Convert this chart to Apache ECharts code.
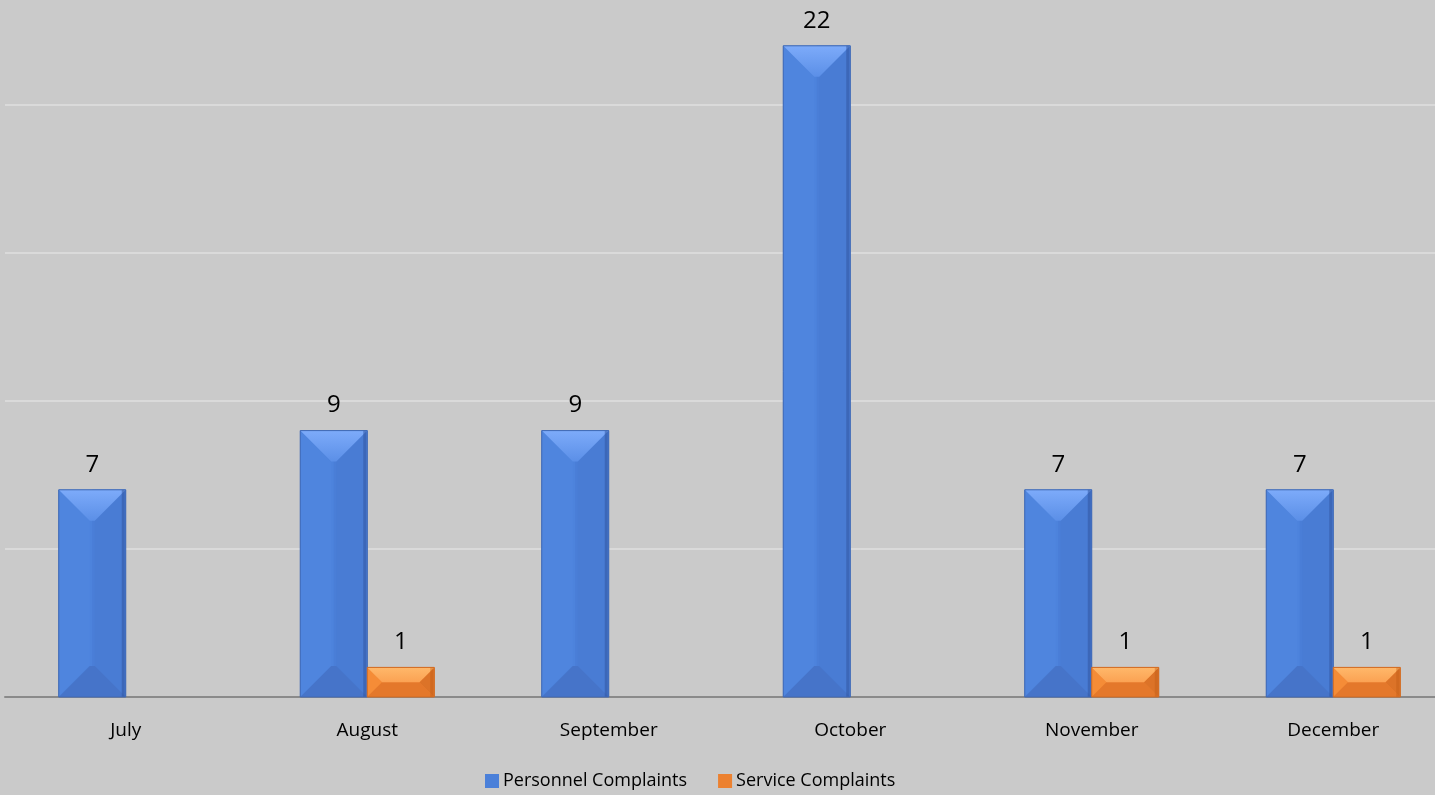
<!DOCTYPE html>
<html>
<head>
<meta charset="utf-8">
<script src="https://cdn.jsdelivr.net/npm/echarts@6/dist/echarts.min.js"></script>
<style>
html,body{margin:0;padding:0;background:#cacaca;}
#chart{width:1435px;height:795px;}
</style>
</head>
<body>
<div id="chart"></div>
<script>
var months = ['July','August','September','October','November','December'];
var personnel = [7, 9, 9, 22, 7, 7];
var service = [null, 1, null, null, 1, 1];

var font = '"Open Sans", sans-serif';
var CAT_GAP = 0.445;

function bevelData(values) {
  var out = [];
  values.forEach(function (v, i) { if (v != null) out.push([i, v]); });
  return out;
}

function makeBevel(side, pal) {
  return function (params, api) {
    var idx = api.value(0), val = api.value(1);
    var top = api.coord([idx, val]);
    var bot = api.coord([idx, 0]);
    var catW = api.size([1, 0])[0];
    var bw = catW * (1 - CAT_GAP) / 2;
    var x0 = side < 0 ? top[0] - bw : top[0];
    var x1 = x0 + bw;
    var yt = top[1], yb = bot[1];
    var h = yb - yt;
    var d = Math.min(bw / 2, h / 2, 31);
    function poly(pts, c) { return {type: 'polygon', shape: {points: pts}, style: {fill: c}}; }
    var xm = (x0 + x1) / 2;
    return {
      type: 'group',
      children: [
        {type: 'rect', shape: {x: x0, y: yt, width: bw, height: h}, style: {fill: pal.front}},
        {type: 'rect', shape: {x: xm, y: yt, width: bw / 2, height: h}, style: {fill: pal.frontR}},
        poly([[x0, yt], [x0 + d, yt + d], [x0 + d, yb - d], [x0, yb]], pal.left),
        poly([[x1, yt], [x1 - d, yt + d], [x1 - d, yb - d], [x1, yb]], pal.right),
        poly([[x0, yb], [x1, yb], [x1 - d, yb - d], [x0 + d, yb - d]], pal.bottom),
        poly([[x0, yt], [x1, yt], [x1 - d, yt + d], [x0 + d, yt + d]], {
          type: 'linear', x: 0, y: 0, x2: 0, y2: 1,
          colorStops: [{offset: 0, color: pal.top0}, {offset: 1, color: pal.top1}]
        }),
        {type: 'rect', shape: {x: x1 - 4, y: yt, width: 3, height: h}, style: {fill: pal.edge}},
        {type: 'rect', shape: {x: x0, y: yt, width: bw, height: h}, style: {fill: 'none', stroke: pal.border, lineWidth: 1}}
      ]
    };
  };
}

var bluePal = {front: '#4d83dc', frontR: '#4a7ed7', left: '#4f85de', right: '#497cd4', bottom: '#4674c9',
  top0: '#7dabfa', top1: '#5b8fe7', edge: 'rgba(50,85,160,0.55)', border: '#4169b3'};
var orangePal = {front: '#ec8130', frontR: '#e97d2e', left: '#f58c37', right: '#dc7328', bottom: '#e4782b',
  top0: '#ffb86a', top1: '#fba253', edge: 'rgba(190,90,20,0.4)', border: '#d06b23'};

var chart = echarts.init(document.getElementById('chart'));
chart.setOption({
  backgroundColor: '#cacaca',
  animation: false,
  grid: {left: 5, right: -19, top: -43, bottom: 98, containLabel: false, outerBoundsMode: 'none'},
  xAxis: {
    type: 'category',
    data: months,
    axisLine: {lineStyle: {color: '#8a8a8a', width: 2}},
    axisTick: {show: false},
    axisLabel: {color: '#000', fontSize: 19, fontFamily: font, margin: 24}
  },
  yAxis: {
    type: 'value', min: 0, max: 25, interval: 5,
    axisLine: {show: false}, axisTick: {show: false}, axisLabel: {show: false},
    splitLine: {lineStyle: {color: '#dadada', width: 2}}
  },
  legend: {
    top: 767, left: 480,
    itemWidth: 14, itemHeight: 14, itemGap: 31,
    icon: 'rect',
    textStyle: {color: '#000', fontSize: 18, fontFamily: font, padding: [0, 0, 0, -1]},
    data: ['Personnel Complaints', 'Service Complaints']
  },
  series: [
    {
      name: 'Personnel Complaints', type: 'bar', data: personnel,
      barGap: '0%', barCategoryGap: (CAT_GAP * 100) + '%',
      itemStyle: {color: '#4b80d9'},
      label: {show: true, position: 'top', distance: 13, color: '#000', fontSize: 24, fontFamily: font}
    },
    {
      name: 'Service Complaints', type: 'bar', data: service,
      itemStyle: {color: '#ec8130'},
      label: {show: true, position: 'top', distance: 13, color: '#000', fontSize: 24, fontFamily: font}
    },
    {
      type: 'custom', data: bevelData(personnel), renderItem: makeBevel(-1, bluePal),
      z: 3, silent: true, encode: {x: 0, y: 1}
    },
    {
      type: 'custom', data: bevelData(service), renderItem: makeBevel(1, orangePal),
      z: 3, silent: true, encode: {x: 0, y: 1}
    }
  ]
});
</script>
</body>
</html>
